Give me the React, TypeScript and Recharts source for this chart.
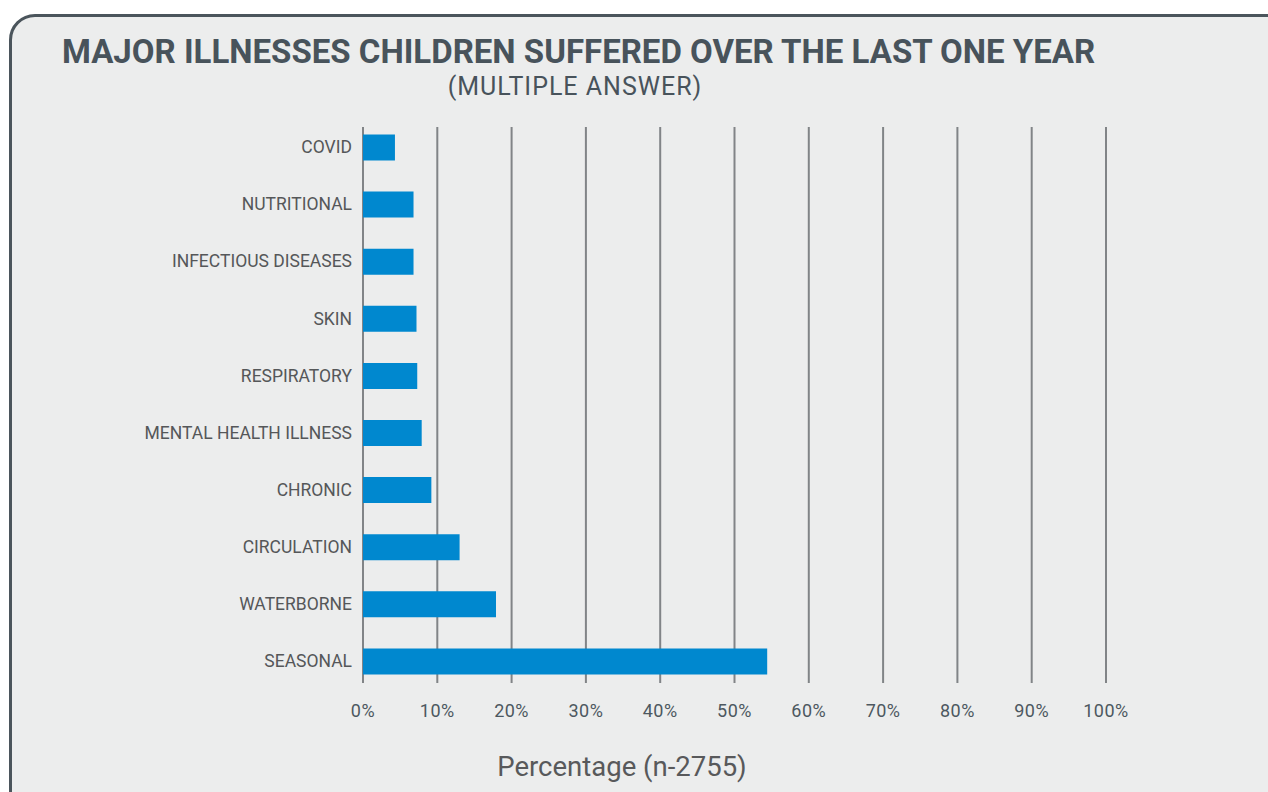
import { BarChart, Bar, XAxis, YAxis, CartesianGrid } from "recharts";

const categories = [
  "COVID",
  "NUTRITIONAL",
  "INFECTIOUS DISEASES",
  "SKIN",
  "RESPIRATORY",
  "MENTAL HEALTH ILLNESS",
  "CHRONIC",
  "CIRCULATION",
  "WATERBORNE",
  "SEASONAL",
];
const percentages = [4.3, 6.8, 6.8, 7.2, 7.3, 7.9, 9.2, 13.0, 17.9, 54.4];
const xTicks = [0, 10, 20, 30, 40, 50, 60, 70, 80, 90, 100];

const data = categories.map((name, i) => ({ name, value: percentages[i] }));

const FONT = "Roboto, 'Noto Sans', sans-serif";

export default function App() {
  return (
    <div
      style={{
        position: "fixed",
        left: 0,
        top: 0,
        width: 1268,
        height: 792,
        overflow: "hidden",
        background: "#ffffff",
        fontFamily: FONT,
      }}
    >
      {/* panel */}
      <div
        style={{
          position: "absolute",
          left: 9,
          top: 14,
          width: 1300,
          height: 820,
          boxSizing: "border-box",
          border: "3px solid #4b555c",
          borderRadius: 26,
          background: "#eceded",
        }}
      />
      <div
        style={{
          position: "absolute",
          left: 62,
          top: 33,
          fontSize: 33,
          fontWeight: 700,
          color: "#48535b",
          whiteSpace: "nowrap",
          lineHeight: "38px",
        }}
      >
        MAJOR ILLNESSES CHILDREN SUFFERED OVER THE LAST ONE YEAR
      </div>
      <div
        style={{
          position: "absolute",
          left: 375,
          width: 400,
          top: 72,
          textAlign: "center",
          fontSize: 25,
          letterSpacing: 1,
          color: "#48535b",
          lineHeight: "30px",
        }}
      >
        (MULTIPLE ANSWER)
      </div>
      <div style={{ position: "absolute", left: 0, top: 0 }}>
        <BarChart
          width={1268}
          height={792}
          layout="vertical"
          data={data}
          margin={{ top: 118.5, right: 162, bottom: 62.5, left: 0 }}
          barSize={26}
        >
          <CartesianGrid
            horizontal={false}
            stroke="#818487"
            strokeWidth={2}
            y={127}
            height={556}
          />
          <XAxis
            type="number"
            domain={[0, 100]}
            ticks={xTicks}
            tickFormatter={(v: number) => `${v}%`}
            axisLine={false}
            tickLine={false}
            tickSize={0}
            tickMargin={15}
            height={40}
            tick={{ fontSize: 18, fill: "#4d5860", fontFamily: FONT, letterSpacing: 0.5 }}
          />
          <YAxis
            type="category"
            dataKey="name"
            width={363}
            axisLine={false}
            tickLine={false}
            tickSize={0}
            tickMargin={11}
            tick={{ fontSize: 17.5, fill: "#555759", fontFamily: FONT }}
          />
          <Bar dataKey="value" fill="#0088cf" isAnimationActive={false} />
        </BarChart>
      </div>
      <div
        style={{
          position: "absolute",
          left: 422,
          width: 400,
          top: 751,
          textAlign: "center",
          fontSize: 27.5,
          color: "#58595b",
          lineHeight: "32px",
        }}
      >
        Percentage (n-2755)
      </div>
    </div>
  );
}
